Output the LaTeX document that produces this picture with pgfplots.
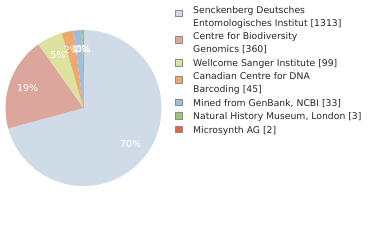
\documentclass[border=0pt]{standalone}
\usepackage{pgfplots}
\usepackage{pgfplotstable}
\pgfplotsset{compat=1.18}
\usepackage{fontspec}
\setmainfont{DejaVu Sans}
\definecolor{slice0}{RGB}{207,219,231}
\definecolor{slice1}{RGB}{221,166,157}
\definecolor{slice2}{RGB}{221,226,160}
\definecolor{slice3}{RGB}{239,168,110}
\definecolor{slice4}{RGB}{157,189,226}
\definecolor{slice5}{RGB}{156,196,123}
\definecolor{slice6}{RGB}{224,102,75}
\pgfplotstableread{
value label
1313 70
360 19
99 5
45 2
33 1
3 0
2 0
}\piedata
\begin{document}
\begin{tikzpicture}[x=1bp,y=1bp]
\path[use as bounding box] (0,0) rectangle (380,240);
\begin{axis}[hide axis, x=78bp, y=78bp, xmin=-1, xmax=1, ymin=-1, ymax=1,
  anchor=center, at={(83.5bp,132bp)}, clip=false]
\gdef\tot{0}
\pgfplotsforeachungrouped \i in {0,...,6}{%
  \pgfplotstablegetelem{\i}{value}\of\piedata
  \pgfmathsetmacro\tot{\tot+\pgfplotsretval}%
}
\gdef\cum{0}
\pgfplotsforeachungrouped \i in {0,...,6}{%
  \pgfplotstablegetelem{\i}{value}\of\piedata
  \let\v\pgfplotsretval
  \pgfmathsetmacro\a{90-\cum/\tot*360}%
  \pgfmathsetmacro\b{90-(\cum+\v)/\tot*360}%
  \edef\temp{\noexpand\fill[slice\i] (axis cs:0,0) -- (axis cs:{cos(\a)},{sin(\a)}) arc[start angle=\a, end angle=\b, radius=78bp] -- cycle;}%
  \temp
  \pgfmathsetmacro\cum{\cum+\v}%
}
\gdef\cum{0}
\pgfplotsforeachungrouped \i in {0,...,6}{%
  \pgfplotstablegetelem{\i}{value}\of\piedata
  \let\v\pgfplotsretval
  \pgfplotstablegetelem{\i}{label}\of\piedata
  \let\lab\pgfplotsretval
  \pgfmathsetmacro\m{90-(\cum+\v/2)/\tot*360}%
  \edef\temp{\noexpand\node[text=white, font=\noexpand\fontsize{9.5}{11}\noexpand\selectfont, inner sep=0pt] at (axis cs:{0.76*cos(\m)},{0.76*sin(\m)}) {\lab\noexpand\%};}%
  \temp
  \pgfmathsetmacro\cum{\cum+\v}%
}
\end{axis}
\begin{scope}[font=\fontsize{9.3}{11}\selectfont, every node/.style={anchor=base west, inner sep=0pt, text=black!85}]
\node at (193,240-13.5) {Senckenberg Deutsches};
\node at (193,240-26) {Entomologisches Institut [1313]};
\node at (193,240-39.5) {Centre for Biodiversity};
\node at (193,240-52.5) {Genomics [360]};
\node at (193,240-66) {Wellcome Sanger Institute [99]};
\node at (193,240-79.5) {Canadian Centre for DNA};
\node at (193,240-92.5) {Barcoding [45]};
\node at (193,240-106) {Mined from GenBank, NCBI [33]};
\node at (193,240-119.5) {Natural History Museum, London [3]};
\node at (193,240-133) {Microsynth AG [2]};
\end{scope}
\begin{scope}[draw=black!45, line width=0.6bp]
\filldraw[fill=slice0] (175.5,240-16.5) rectangle ++(6.5,6.5);
\filldraw[fill=slice1] (175.5,240-43) rectangle ++(6.5,6.5);
\filldraw[fill=slice2] (175.5,240-66) rectangle ++(6.5,6.5);
\filldraw[fill=slice3] (175.5,240-83) rectangle ++(6.5,6.5);
\filldraw[fill=slice4] (175.5,240-105.5) rectangle ++(6.5,6.5);
\filldraw[fill=slice5] (175.5,240-119) rectangle ++(6.5,6.5);
\filldraw[fill=slice6] (175.5,240-132.5) rectangle ++(6.5,6.5);
\end{scope}
\end{tikzpicture}
\end{document}
